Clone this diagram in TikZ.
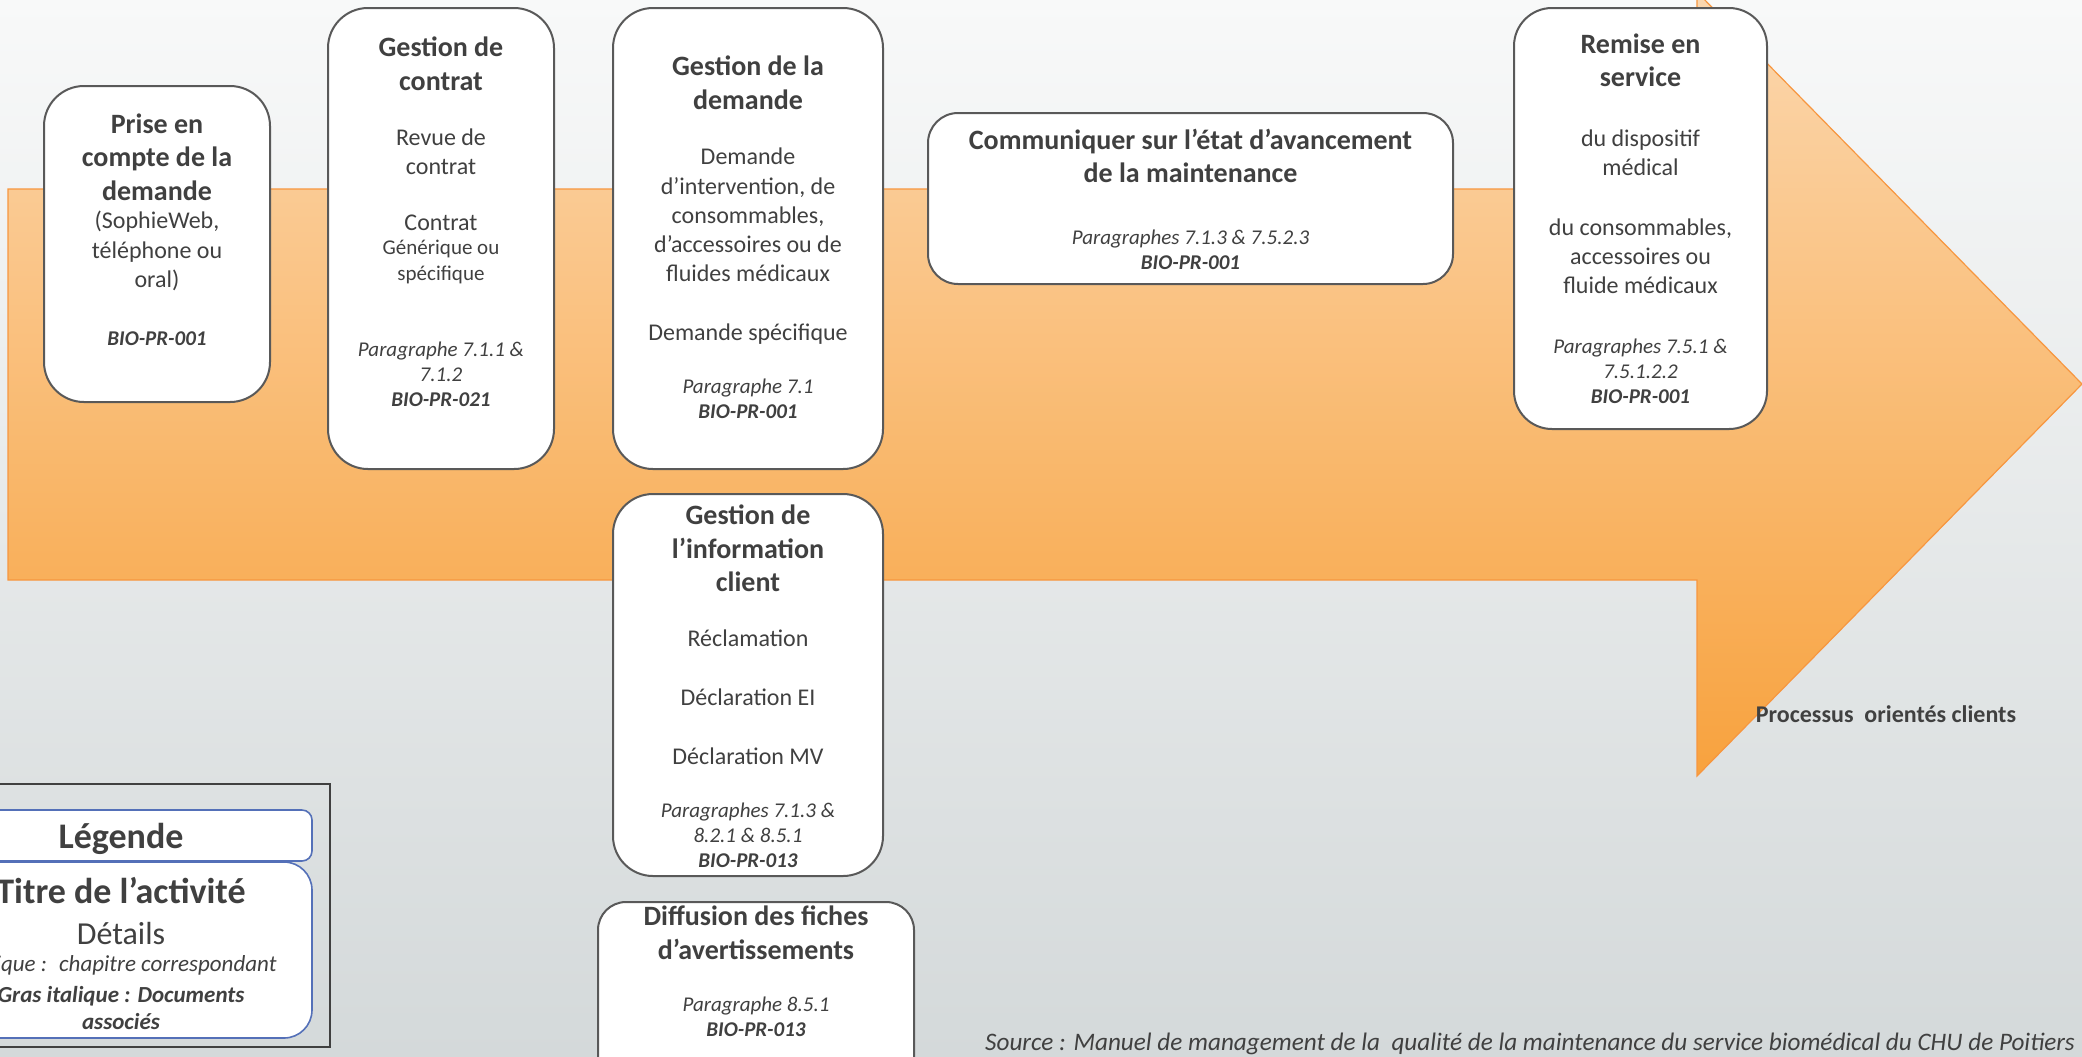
\documentclass[tikz,border=0pt]{standalone}
\usepackage{fontspec}
\setmainfont{Carlito}

\definecolor{bgtop}{HTML}{F8F9F9}
\definecolor{bgbot}{HTML}{D4D9DA}
\definecolor{arrtop}{HTML}{FBD8B0}
\definecolor{arrbot}{HTML}{F8A23E}
\definecolor{arredge}{HTML}{F7963F}
\definecolor{boxline}{HTML}{595959}
\definecolor{frameline}{HTML}{404040}
\definecolor{txt}{HTML}{404040}
\definecolor{legblue}{HTML}{5470B8}

\tikzset{
  procbox/.style={draw=boxline, line width=1pt, fill=white, rounded corners=20pt, inner sep=0pt},
  legbox/.style={draw=legblue, line width=0.8pt, fill=white, minimum width=191pt, inner sep=0pt},
  ttl/.style={text=txt, align=center, inner sep=0pt, font=\bfseries\fontsize{14}{16.8}\selectfont},
  body/.style={text=txt, align=center, inner sep=0pt, font=\fontsize{12}{14.6}\selectfont},
  smalltxt/.style={text=txt, align=center, inner sep=0pt, font=\fontsize{10.5}{12.6}\selectfont},
  ref/.style={text=txt, align=center, inner sep=0pt, font=\itshape\fontsize{10.5}{12.5}\selectfont},
}

\begin{document}
\begin{tikzpicture}[x=0.5pt, y=-0.5pt]

  \useasboundingbox (0,0) rectangle (2082,1056);

  % Background and big arrow
  \shade[top color=bgtop, bottom color=bgbot] (0,0) rectangle (2082,1056);
  \shadedraw[top color=arrtop, bottom color=arrbot, draw=arredge, line width=0.6pt]
    (8,189) -- (1697,189) -- (1697,-8) -- (2082,384) -- (1697,776) -- (1697,580) -- (8,580) -- cycle;

  % Boxes
  \node[procbox, minimum width=113pt, minimum height=158pt] (prise) at (157,244) {};
  \node[procbox, minimum width=113pt, minimum height=230.5pt] (contrat) at (441,238.5) {};
  \node[procbox, minimum width=135pt, minimum height=230.5pt] (demande) at (748,238.5) {};
  \node[procbox, rounded corners=15pt, minimum width=262.5pt, minimum height=85.5pt] (avanc) at (1190.5,198.5) {};
  \node[procbox, rounded corners=19pt, minimum width=126.5pt, minimum height=210.5pt] (remise) at (1640.5,218.5) {};
  \node[procbox, minimum width=135pt, minimum height=191pt] (info) at (748,685) {};
  \node[procbox, rounded corners=14pt, minimum width=158pt, minimum height=94pt] (diff) at (756,996) {};

  % Prise en compte
  \node[ttl] (priseT) at (157,157) {Prise en\\compte de la\\demande};
  \node[body] (priseB) at (157,251) {(SophieWeb,\\téléphone ou\\oral)};
  \node[ref] (priseR) at (157,338.6) {\textbf{BIO-PR-001}};

  % Gestion de contrat
  \node[ttl] (contratT) at (441,63.7) {Gestion de\\contrat};
  \node[body] (contratB) at (441,152) {Revue de\\contrat};
  \node[body] (contratC) at (441,222.5) {Contrat};
  \node[smalltxt] (contratS) at (441,262) {Générique ou\\spécifique};
  \node[ref] (contratR) at (441,374.4) {Paragraphe 7.1.1 \&\\7.1.2\\\textbf{BIO-PR-021}};

  % Gestion de la demande
  \node[ttl] (demandeT) at (748,83) {Gestion de la\\demande};
  \node[body] (demandeB) at (748,215) {Demande\\d’intervention, de\\consommables,\\d’accessoires ou de\\fluides médicaux};
  \node[body] (demandeS) at (748,334.5) {Demande spécifique};
  \node[ref] (demandeR) at (748,398.5) {Paragraphe 7.1\\\textbf{BIO-PR-001}};

  % Avancement
  \node[ttl] (avancT) at (1190.5,156) {Communiquer sur l’état d’avancement\\de la maintenance};
  \node[ref] (avancR) at (1190.5,249.6) {Paragraphes 7.1.3 \& 7.5.2.3\\\textbf{BIO-PR-001}};

  % Remise en service
  \node[ttl] (remiseT) at (1640.5,60.4) {Remise en\\service};
  \node[body] (remiseB) at (1640.5,152.7) {du dispositif\\médical};
  \node[body] (remiseC) at (1640.5,256.3) {du consommables,\\accessoires ou\\fluide médicaux};
  \node[ref] (remiseR) at (1640.5,371.5) {Paragraphes 7.5.1 \&\\7.5.1.2.2\\\textbf{BIO-PR-001}};

  % Information client
  \node[ttl] (infoT) at (748,548.4) {Gestion de\\l’information\\client};
  \node[body] (infoB) at (748,697.5) {Réclamation\\[15pt]Déclaration EI\\[15pt]Déclaration MV};
  \node[ref] (infoR) at (748,835.2) {Paragraphes 7.1.3 \&\\8.2.1 \& 8.5.1\\\textbf{BIO-PR-013}};

  % Diffusion
  \node[ttl] (diffT) at (756,932.8) {Diffusion des fiches\\d’avertissements};
  \node[ref] (diffR) at (756,1016.4) {Paragraphe 8.5.1\\\textbf{BIO-PR-013}};

  % Legend
  \node[draw=frameline, line width=1.2pt, minimum width=208.5pt, minimum height=131.5pt, inner sep=0pt] (legframe) at (121.5,915.5) {};
  \node[legbox, rounded corners=5pt, minimum height=25.5pt] (leghead) at (121,835.5) {};
  \node[legbox, rounded corners=14pt, minimum height=88pt] (legbody) at (121,950) {};
  \node[ttl, font=\bfseries\fontsize{18}{21}\selectfont] (legheadT) at (121,839) {Légende};
  \node[ttl, font=\bfseries\fontsize{18}{21}\selectfont] (legtitre) at (121,891) {Titre de l’activité};
  \node[body, font=\fontsize{16}{19}\selectfont] (legdet) at (121,933) {Détails};
  \node[ref, font=\itshape\fontsize{11.5}{13.5}\selectfont] (legital) at (121,965) {Italique :~ chapitre correspondant};
  \node[ref, font=\bfseries\itshape\fontsize{11.5}{13.5}\selectfont] (leggras) at (121,1007.5) {Gras italique : Documents\\associés};

  % Captions
  \node[ttl, font=\bfseries\fontsize{12}{14}\selectfont] (procT) at (1886,714) {Processus~ orientés clients};
  \node[ref, font=\itshape\fontsize{12.6}{14}\selectfont] (source) at (1530,1044) {Source : Manuel de management de la~ qualité de la maintenance du service biomédical du CHU de Poitiers};

\end{tikzpicture}
\end{document}
